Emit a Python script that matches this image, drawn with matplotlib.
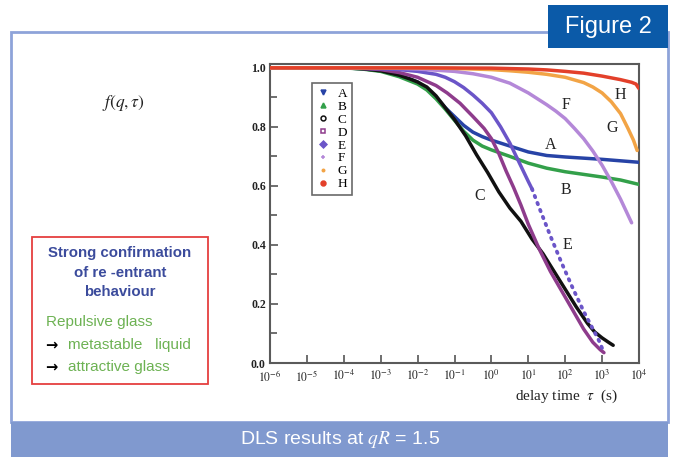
"""DLS intermediate scattering functions f(q, tau) for samples A-H, qR = 1.5."""

import matplotlib

matplotlib.use("Agg")
import matplotlib.pyplot as plt
from matplotlib.lines import Line2D
from matplotlib.patches import Rectangle
import numpy as np

plt.rcParams["mathtext.fontset"] = "stix"

# log10(tau / s) and f(q, tau)
a_logt = [-6, -4, -3.5, -3, -2.5, -2, -1.75, -1.5, -1.25, -1, -0.75, -0.5, -0.25, 0, 0.5, 1, 1.5, 2, 3, 4]
a_f = [1.0, 1.0, 0.997, 0.99, 0.975, 0.952, 0.93, 0.90, 0.865, 0.835, 0.805, 0.782, 0.767, 0.755,
       0.735, 0.715, 0.703, 0.698, 0.69, 0.68]

b_logt = [-6, -4, -3.5, -3, -2.5, -2, -1.75, -1.5, -1.25, -1, -0.75, -0.5, -0.25, 0, 0.5, 1, 1.5, 2, 3, 3.5, 4]
b_f = [1.0, 1.0, 0.996, 0.988, 0.97, 0.945, 0.925, 0.895, 0.86, 0.822, 0.785, 0.755, 0.735, 0.722,
       0.70, 0.677, 0.66, 0.648, 0.63, 0.62, 0.605]

c_logt = [-6, -4, -3.5, -3, -2.5, -2.2, -2, -1.75, -1.5, -1.25, -1, -0.7, -0.4, -0.1, 0.2, 0.5, 0.8,
          1.1, 1.4, 1.7, 2.0, 2.3, 2.6, 2.8, 3.0, 3.2, 3.3]
c_f = [1.0, 1.0, 0.997, 0.99, 0.975, 0.962, 0.952, 0.935, 0.905, 0.865, 0.825, 0.77, 0.705, 0.645,
       0.58, 0.525, 0.48, 0.42, 0.37, 0.31, 0.25, 0.19, 0.135, 0.105, 0.085, 0.068, 0.06]

d_logt = [-6, -4, -3.5, -3, -2.5, -2, -1.5, -1.2, -0.85, -0.5, -0.2, 0, 0.2, 0.4, 0.6, 0.8, 1, 1.3,
          1.6, 1.9, 2.2, 2.5, 2.75, 2.95, 3.05]
d_f = [1.0, 1.0, 0.998, 0.994, 0.984, 0.968, 0.94, 0.915, 0.88, 0.835, 0.795, 0.76, 0.71, 0.65,
       0.595, 0.535, 0.47, 0.385, 0.31, 0.245, 0.18, 0.115, 0.07, 0.045, 0.035]

e_logt = [-6, -4, -3, -2.5, -2, -1.5, -1.25, -1, -0.75, -0.5, -0.25, 0, 0.25, 0.5, 0.75, 1, 1.1]
e_f = [1.0, 1.0, 0.997, 0.994, 0.988, 0.978, 0.968, 0.953, 0.933, 0.908, 0.88, 0.848, 0.80, 0.745,
       0.68, 0.615, 0.59]
e_tail_logt = [1.1, 1.3, 1.6, 1.9, 2.2, 2.5, 2.75, 2.9, 3.0, 3.05]
e_tail_f = [0.59, 0.525, 0.43, 0.34, 0.255, 0.175, 0.115, 0.08, 0.05, 0.04]

f_logt = [-6, -3, -2, -1, -0.5, 0, 0.5, 1, 1.5, 1.75, 2, 2.25, 2.5, 2.75, 3, 3.25, 3.5, 3.65, 3.8]
f_f = [1.0, 1.0, 0.996, 0.988, 0.98, 0.968, 0.948, 0.915, 0.875, 0.853, 0.828, 0.795, 0.76, 0.718,
       0.67, 0.615, 0.555, 0.515, 0.475]

g_logt = [-6, -2, -1, 0, 0.5, 1, 1.5, 2, 2.5, 2.75, 3, 3.25, 3.5, 3.7, 3.85, 3.95]
g_f = [1.0, 1.0, 0.998, 0.994, 0.99, 0.985, 0.978, 0.968, 0.95, 0.935, 0.915, 0.885, 0.845, 0.795,
       0.755, 0.72]

h_logt = [-6, -2, 0, 1, 1.5, 2, 2.5, 3, 3.5, 3.8, 3.92, 3.97, 4.0]
h_f = [1.0, 1.0, 0.999, 0.996, 0.993, 0.988, 0.982, 0.972, 0.96, 0.951, 0.945, 0.935, 0.93]

samples = ["A", "B", "C", "D", "E", "F", "G", "H"]
colors = ["#2743a6", "#33a04a", "#111111", "#8e3c8c", "#6b55c8", "#b488d8", "#f2a446", "#e3402a"]
markers = ["v", "^", "o", "s", "D", "+", ".", "o"]

series = {
    "A": (a_logt, a_f), "B": (b_logt, b_f), "C": (c_logt, c_f), "D": (d_logt, d_f),
    "E": (e_logt, e_f), "F": (f_logt, f_f), "G": (g_logt, g_f), "H": (h_logt, h_f),
}

# where the curve letters sit (tau, f)
curve_labels = {
    "A": (41, 0.739), "B": (105, 0.586), "C": (0.49, 0.566), "E": (112, 0.40),
    "F": (105, 0.875), "G": (1860, 0.797), "H": (3090, 0.908),
}

W, H = 675, 459
fig = plt.figure(figsize=(W / 100, H / 100), dpi=100)


def fx(px):
    return px / W


def fy(py):
    return 1 - py / H


# slide frame, caption bar and "Figure 2" tab
fig.add_artist(Rectangle((fx(11), fy(422)), fx(657), 390 / H, transform=fig.transFigure,
                         facecolor="white", edgecolor="#8ea3d9", lw=2, zorder=0))
fig.add_artist(Rectangle((fx(11), fy(457)), fx(657), 35 / H, transform=fig.transFigure,
                         facecolor="#8099cf", edgecolor="none", zorder=1))
fig.add_artist(Rectangle((fx(548), fy(48)), fx(120), 43 / H, transform=fig.transFigure,
                         facecolor="#0b5aa8", edgecolor="none", zorder=1))
fig.text(fx(608), fy(27), "Figure 2", color="white", fontsize=17, ha="center", va="center",
         family="Liberation Sans")
fig.text(fx(340), fy(440), r"DLS results at $qR$ = 1.5", color="white", fontsize=14,
         ha="center", va="center", family="Liberation Sans")

# red note box
fig.add_artist(Rectangle((fx(32), fy(384)), fx(176), 147 / H, transform=fig.transFigure,
                         facecolor="white", edgecolor="#e53f3f", lw=1.3, zorder=1))
navy = "#3b4b9c"
green = "#6db253"
for txt, py in [("Strong confirmation", 253), ("of re -entrant", 273), ("behaviour", 292)]:
    fig.text(fx(120), fy(py), txt, color=navy, fontsize=10.8, fontweight="bold",
             ha="center", va="center", family="Liberation Sans")
fig.text(fx(46), fy(322), "Repulsive glass", color=green, fontsize=11, va="center",
         family="Liberation Sans")
for txt, py in [("metastable   liquid", 345), ("attractive glass", 367)]:
    fig.text(fx(45), fy(py), "\u2192", color="black", fontsize=10.5, va="center",
             family="DejaVu Sans", fontweight="bold")
    fig.text(fx(68), fy(py), txt, color=green, fontsize=11, va="center",
             family="Liberation Sans")

# the DLS panel
ax = fig.add_axes([fx(270), fy(363), fx(369), 299 / H])
for s, col in zip(samples, colors):
    lt, fv = series[s]
    ax.plot(10.0 ** np.array(lt), fv, color=col, lw=2.5, solid_capstyle="round",
            solid_joinstyle="round", zorder=3)
ax.plot(10.0 ** np.array(e_tail_logt), e_tail_f, color=colors[4], lw=2.7, ls=(0, (0.4, 1.6)),
        dash_capstyle="round", zorder=3)

ax.set_xscale("log")
ax.set_xlim(1e-6, 1e4)
ax.set_ylim(0, 1.013)
ax.set_xticks([10.0 ** k for k in range(-6, 5)])
ax.set_xticklabels([rf"$10^{{{k}}}$" for k in range(-6, 5)])
ax.xaxis.set_minor_locator(matplotlib.ticker.NullLocator())
ax.set_yticks([0, 0.2, 0.4, 0.6, 0.8, 1.0])
ax.set_yticklabels(["0.0", "0.2", "0.4", "0.6", "0.8", "1.0"])
ax.set_yticks([0.1, 0.3, 0.5, 0.7, 0.9], minor=True)
ax.tick_params(which="both", direction="in", color="#555555", width=1.2, top=False, right=False)
ax.tick_params(which="major", length=6, labelcolor="#222222")
ax.tick_params(axis="x", which="major", labelsize=8.5, pad=4)
ax.tick_params(axis="y", which="major", labelsize=8.5, pad=3)
ax.tick_params(which="minor", length=5)
for lab in ax.get_yticklabels():
    lab.set_family("Liberation Serif")
    lab.set_fontweight("bold")
for sp in ax.spines.values():
    sp.set_color("#5a5a5a")
    sp.set_linewidth(1.5)

for s, (tx, ty) in curve_labels.items():
    ax.text(tx, ty, s, fontsize=11.5, family="Liberation Serif", ha="center", va="center",
            color="#222222", zorder=4)

handles = [Line2D([], [], ls="none", marker=m, color=c, markersize=3.5,
                  markerfacecolor=("none" if s in ("C", "D") else c),
                  markeredgewidth=1.1)
           for s, m, c in zip(samples, markers, colors)]
leg = ax.legend(handles, samples, loc="upper left", bbox_to_anchor=(0.114, 0.936),
                frameon=True, fancybox=False, handlelength=1.0, handletextpad=0.6,
                labelspacing=0.05, borderpad=0.35, borderaxespad=0,
                prop={"family": "Liberation Serif", "size": 9.5})
leg.get_frame().set_edgecolor("#444444")
leg.get_frame().set_linewidth(1.2)

fig.text(fx(123), fy(103), r"$f(q,\tau)$", fontsize=12.5, ha="center", va="center", color="#222222")
fig.text(fx(566), fy(396), r"delay time  $\tau$  (s)", fontsize=11, ha="center", va="center",
         family="Liberation Serif", color="#222222")

fig.savefig("out.png", dpi=100)
plt.close(fig)
